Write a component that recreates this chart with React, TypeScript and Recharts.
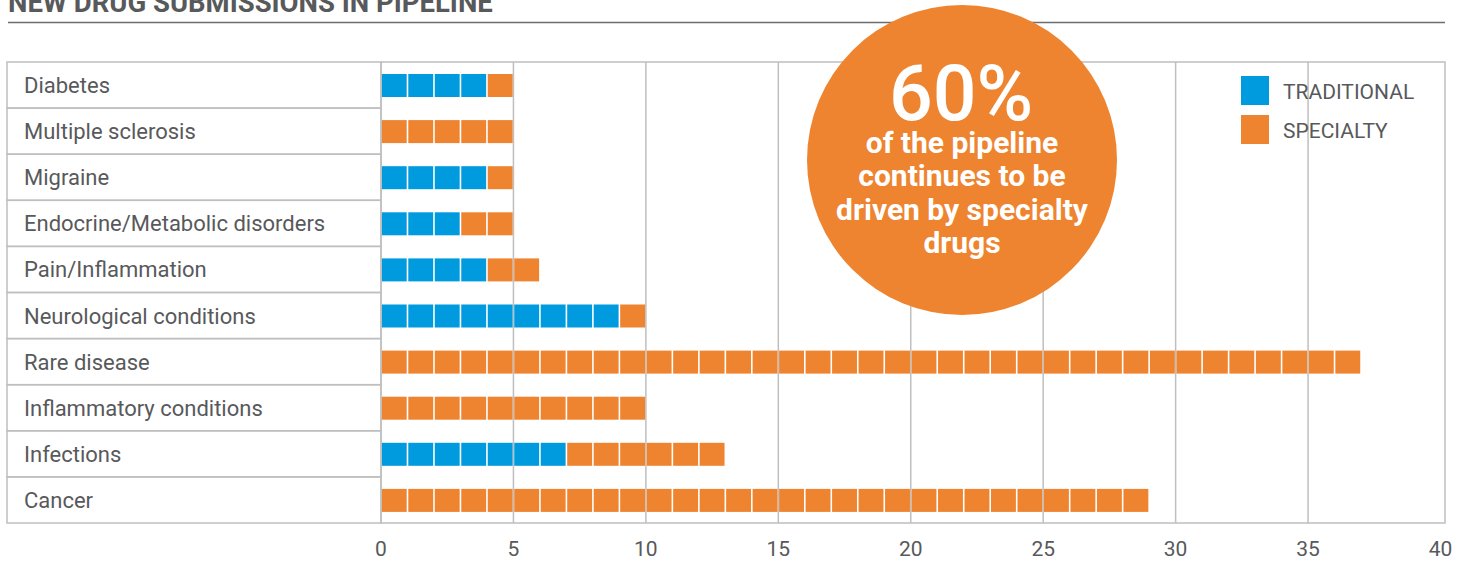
import React from "react";
import { BarChart, Bar, XAxis, YAxis, CartesianGrid, ReferenceArea } from "recharts";

const title = "NEW DRUG SUBMISSIONS IN PIPELINE";
const categories = [
  "Diabetes",
  "Multiple sclerosis",
  "Migraine",
  "Endocrine/Metabolic disorders",
  "Pain/Inflammation",
  "Neurological conditions",
  "Rare disease",
  "Inflammatory conditions",
  "Infections",
  "Cancer",
];
const traditional = [4, 0, 4, 3, 4, 9, 0, 0, 7, 0];
const specialty = [1, 5, 1, 2, 2, 1, 37, 10, 6, 29];
const xTicks = [0, 5, 10, 15, 20, 25, 30, 35, 40];
const gridValues = [5, 10, 15, 20, 25, 30, 35];
const seriesNames = ["TRADITIONAL", "SPECIALTY"];
const calloutValue = "60%";
const calloutLines = ["of the pipeline", "continues to be", "driven by specialty", "drugs"];

const BLUE = "#009bde";
const ORANGE = "#ee8430";
const LINE = "#bfbfbf";
const TEXT = "#58595b";
const FONT = "Roboto, sans-serif";

const data = categories.map((name, i) => ({
  name,
  traditional: traditional[i],
  specialty: specialty[i],
}));

const PLOT_TOP = 62;
const PLOT_BOTTOM = 523;
const rowH = (PLOT_BOTTOM - PLOT_TOP) / categories.length;

// one small square per submission
const makeBlocks = (key: "traditional" | "specialty", fill: string) => (props: any) => {
  const { x, y, width, height, payload } = props;
  const n = payload[key];
  if (!n || !width) return <g />;
  const unit = width / n;
  return (
    <g>
      {Array.from({ length: n }, (_, i) => (
        <rect key={i} x={x + i * unit + 0.8} y={y} width={unit - 1.6} height={height} fill={fill} />
      ))}
    </g>
  );
};

const RowTick = (props: any) => {
  const { y, payload } = props;
  return (
    <g>
      <rect x={7} y={y - rowH / 2} width={374} height={rowH} fill="none" stroke={LINE} strokeWidth={1.5} />
      <text x={24} y={y + 8} fill={TEXT} fontSize={22} fontFamily={FONT}>
        {payload.value}
      </text>
    </g>
  );
};

export default function App() {
  return (
    <div style={{ position: "absolute", left: 0, top: 0, width: 1464, height: 561, background: "#fff" }}>
      <BarChart
        width={1464}
        height={561}
        data={data}
        layout="vertical"
        margin={{ top: PLOT_TOP, right: 19, bottom: 0, left: 7 }}
        barSize={23}
      >
        <CartesianGrid horizontal={false} verticalValues={gridValues} stroke={LINE} strokeWidth={1.5} />
        <XAxis
          type="number"
          domain={[0, 40.17]}
          ticks={xTicks}
          allowDataOverflow
          height={38}
          tickSize={0}
          tickMargin={18}
          axisLine={false}
          tickLine={false}
          tick={{ fill: TEXT, fontSize: 21, fontFamily: FONT }}
        />
        <YAxis
          type="category"
          dataKey="name"
          width={374}
          axisLine={false}
          tickLine={false}
          interval={0}
          tick={<RowTick />}
        />
        <ReferenceArea x1={0} x2={40.17} fill="none" stroke={LINE} strokeWidth={1.5} ifOverflow="visible" />
        <Bar dataKey="traditional" stackId="a" fill={BLUE} shape={makeBlocks("traditional", BLUE)} isAnimationActive={false} />
        <Bar dataKey="specialty" stackId="a" fill={ORANGE} shape={makeBlocks("specialty", ORANGE)} isAnimationActive={false} />
      </BarChart>

      <svg width={1464} height={561} style={{ position: "absolute", left: 0, top: 0, pointerEvents: "none" }}>
        <text x={8} y={12} fill={TEXT} fontSize={27.5} fontWeight="bold" fontFamily={FONT}>
          {title}
        </text>
        <line x1={8} x2={1445} y1={22.5} y2={22.5} stroke="#6d6e70" strokeWidth={1.5} />

        {seriesNames.map((s, i) => (
          <g key={s}>
            <rect x={1241} y={76 + i * 39} width={28} height={29} fill={i === 0 ? BLUE : ORANGE} />
            <text x={1283} y={99 + i * 39} fill={TEXT} fontSize={21} fontFamily={FONT}>
              {s}
            </text>
          </g>
        ))}

        <circle cx={962} cy={160} r={155} fill={ORANGE} />
        <text x={961} y={120} textAnchor="middle" fill="#fff" fontSize={77} fontWeight={500} fontFamily={FONT}>
          {calloutValue}
        </text>
        {calloutLines.map((l, i) => (
          <text key={l} x={962} y={153 + i * 33.3} textAnchor="middle" fill="#fff" fontSize={30} fontWeight="bold" fontFamily={FONT}>
            {l}
          </text>
        ))}
      </svg>
    </div>
  );
}
